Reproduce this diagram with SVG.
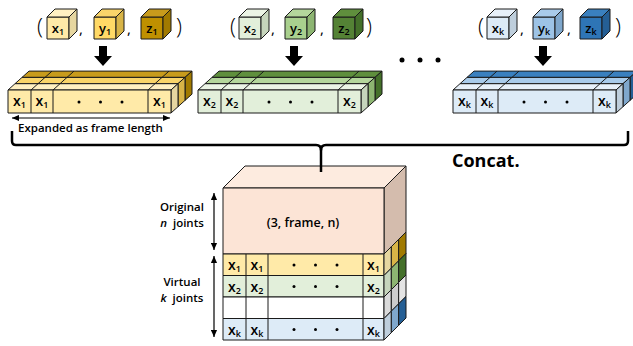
<svg xmlns="http://www.w3.org/2000/svg" width="633" height="346" viewBox="0 0 633 346">
<defs>
<style>
.o{stroke:#1a1a1a;stroke-width:1;stroke-linejoin:round}
.ln{stroke:#1a1a1a;stroke-width:1;fill:none}
.t{font-family:"Open Sans","Noto Sans","DejaVu Sans",sans-serif;fill:#000}
.c{font-size:14px;font-weight:600;text-anchor:middle}
.cs{font-size:13px;font-weight:600;text-anchor:middle}
.s{font-size:9px}
.p{font-size:22px;font-weight:300}
.cm{font-size:15px;font-weight:400}
.lb{font-size:11.5px;font-weight:600;text-anchor:middle}
.dot{fill:#000}
.yxf{fill:#FFEAA8}.yxt{fill:#FFF0C2}.yxs{fill:#E6D6A0}
.yyf{fill:#FFD966}.yyt{fill:#F9D46A}.yys{fill:#D8B447}
.yzf{fill:#BF9000}.yzt{fill:#C89B1C}.yzs{fill:#A17A00}
.gxf{fill:#E2EFDA}.gxt{fill:#EBF4E5}.gxs{fill:#C6D5BC}
.gyf{fill:#A9D08E}.gyt{fill:#B4D69C}.gys{fill:#8DB572}
.gzf{fill:#548235}.gzt{fill:#5F8F3D}.gzs{fill:#44702A}
.bxf{fill:#DDEBF7}.bxt{fill:#E7F0F9}.bxs{fill:#BECEDC}
.byf{fill:#9DC3E6}.byt{fill:#A9CBEA}.bys{fill:#7FA7CC}
.bzf{fill:#2E75B6}.bzt{fill:#3A80BF}.bzs{fill:#255F95}
.wf{fill:#FFFFFF}.w0{fill:#DADADA}.w1{fill:#CCCCCC}.w2{fill:#E4E4E4}
.pf{fill:#FCE4D6}.pt{fill:#FDEBDF}.ps{fill:#D4BCAD}
.blk{fill:#000}
</style>
<marker id="ah" viewBox="0 0 8 8" refX="8" refY="4" markerWidth="7" markerHeight="7" markerUnits="userSpaceOnUse" orient="auto-start-reverse"><path d="M0,0.5 L8,4 L0,7.5 z" fill="#000"/></marker>
</defs>

<!-- ===== yellow group ===== -->
<g id="tuple-1">
<text class="t p" x="37" y="34">(</text>
<g id="cube-x1">
<rect class="o yxf" x="47" y="17" width="22" height="22"/>
<path class="o yxt" d="M47,17 L69,17 L77,9 L55,9 Z"/>
<path class="o yxs" d="M69,17 L77,9 L77,31 L69,39 Z"/>
<text class="t cs" x="58" y="33">x<tspan class="s" dy="2">1</tspan></text>
</g>
<text class="t cm" x="79" y="34">,</text>
<g id="cube-y1">
<rect class="o yyf" x="94" y="17" width="22" height="22"/>
<path class="o yyt" d="M94,17 L116,17 L124,9 L102,9 Z"/>
<path class="o yys" d="M116,17 L124,9 L124,31 L116,39 Z"/>
<text class="t cs" x="105" y="33">y<tspan class="s" dy="2">1</tspan></text>
</g>
<text class="t cm" x="127" y="34">,</text>
<g id="cube-z1">
<rect class="o yzf" x="141" y="17" width="22" height="22"/>
<path class="o yzt" d="M141,17 L163,17 L171,9 L149,9 Z"/>
<path class="o yzs" d="M163,17 L171,9 L171,31 L163,39 Z"/>
<text class="t cs" x="152" y="33">z<tspan class="s" dy="2">1</tspan></text>
</g>
<text class="t p" x="176" y="34">)</text>
</g>

<g id="bar-1">
<path class="o yzt" d="M29,71.1 L192,71.1 L185,77.4 L22,77.4 Z"/>
<path class="o yzs" d="M185,77.4 L192,71.1 L192,94.1 L185,100.4 Z"/>
<path class="o yyt" d="M22,77.4 L185,77.4 L178,83.7 L15,83.7 Z"/>
<path class="o yys" d="M178,83.7 L185,77.4 L185,100.4 L178,106.7 Z"/>
<path class="o yxt" d="M15,83.7 L178,83.7 L171,90 L8,90 Z"/>
<path class="o yxs" d="M171,90 L178,83.7 L178,106.7 L171,113 Z"/>
<rect class="o yxf" x="8" y="90" width="163" height="23"/>
<path class="ln" d="M31,90 V113 M53,90 V113 M148,90 V113 M31,90 L52,71.1 M53,90 L74,71.1 M148,90 L169,71.1"/>
<text class="t c" x="19.5" y="106">x<tspan class="s" dy="2">1</tspan></text>
<text class="t c" x="42" y="106">x<tspan class="s" dy="2">1</tspan></text>
<text class="t c" x="159.5" y="106">x<tspan class="s" dy="2">1</tspan></text>
<circle class="dot" cx="79" cy="102" r="1.5"/><circle class="dot" cx="100.5" cy="102" r="1.5"/><circle class="dot" cx="122" cy="102" r="1.5"/>
</g>

<!-- ===== green group ===== -->
<g id="tuple-2">
<text class="t p" x="230" y="34">(</text>
<g id="cube-x2">
<rect class="o gxf" x="239" y="17" width="22" height="22"/>
<path class="o gxt" d="M239,17 L261,17 L269,9 L247,9 Z"/>
<path class="o gxs" d="M261,17 L269,9 L269,31 L261,39 Z"/>
<text class="t cs" x="250" y="33">x<tspan class="s" dy="2">2</tspan></text>
</g>
<text class="t cm" x="271" y="34">,</text>
<g id="cube-y2">
<rect class="o gyf" x="285" y="17" width="22" height="22"/>
<path class="o gyt" d="M285,17 L307,17 L315,9 L293,9 Z"/>
<path class="o gys" d="M307,17 L315,9 L315,31 L307,39 Z"/>
<text class="t cs" x="296" y="33">y<tspan class="s" dy="2">2</tspan></text>
</g>
<text class="t cm" x="320" y="34">,</text>
<g id="cube-z2">
<rect class="o gzf" x="333" y="17" width="22" height="22"/>
<path class="o gzt" d="M333,17 L355,17 L363,9 L341,9 Z"/>
<path class="o gzs" d="M355,17 L363,9 L363,31 L355,39 Z"/>
<text class="t cs" x="344" y="33">z<tspan class="s" dy="2">2</tspan></text>
</g>
<text class="t p" x="366" y="34">)</text>
</g>

<g id="bar-2" transform="translate(190,0)">
<path class="o gzt" d="M29,71.1 L192,71.1 L185,77.4 L22,77.4 Z"/>
<path class="o gzs" d="M185,77.4 L192,71.1 L192,94.1 L185,100.4 Z"/>
<path class="o gyt" d="M22,77.4 L185,77.4 L178,83.7 L15,83.7 Z"/>
<path class="o gys" d="M178,83.7 L185,77.4 L185,100.4 L178,106.7 Z"/>
<path class="o gxt" d="M15,83.7 L178,83.7 L171,90 L8,90 Z"/>
<path class="o gxs" d="M171,90 L178,83.7 L178,106.7 L171,113 Z"/>
<rect class="o gxf" x="8" y="90" width="163" height="23"/>
<path class="ln" d="M31,90 V113 M53,90 V113 M148,90 V113 M31,90 L52,71.1 M53,90 L74,71.1 M148,90 L169,71.1"/>
<text class="t c" x="19.5" y="106">x<tspan class="s" dy="2">2</tspan></text>
<text class="t c" x="42" y="106">x<tspan class="s" dy="2">2</tspan></text>
<text class="t c" x="159.5" y="106">x<tspan class="s" dy="2">2</tspan></text>
<circle class="dot" cx="79" cy="102" r="1.5"/><circle class="dot" cx="100.5" cy="102" r="1.5"/><circle class="dot" cx="122" cy="102" r="1.5"/>
</g>

<!-- ellipsis between groups -->
<g id="ellipsis">
<circle class="dot" cx="402" cy="60" r="2.5"/><circle class="dot" cx="420" cy="60" r="2.5"/><circle class="dot" cx="438" cy="60" r="2.5"/>
</g>

<!-- ===== blue group ===== -->
<g id="tuple-k">
<text class="t p" x="478" y="34">(</text>
<g id="cube-xk">
<rect class="o bxf" x="487" y="17" width="22" height="22"/>
<path class="o bxt" d="M487,17 L509,17 L517,9 L495,9 Z"/>
<path class="o bxs" d="M509,17 L517,9 L517,31 L509,39 Z"/>
<text class="t cs" x="498" y="33">x<tspan class="s" dy="2">k</tspan></text>
</g>
<text class="t cm" x="520" y="34">,</text>
<g id="cube-yk">
<rect class="o byf" x="533" y="17" width="22" height="22"/>
<path class="o byt" d="M533,17 L555,17 L563,9 L541,9 Z"/>
<path class="o bys" d="M555,17 L563,9 L563,31 L555,39 Z"/>
<text class="t cs" x="544" y="33">y<tspan class="s" dy="2">k</tspan></text>
</g>
<text class="t cm" x="567" y="34">,</text>
<g id="cube-zk">
<rect class="o bzf" x="580" y="17" width="22" height="22"/>
<path class="o bzt" d="M580,17 L602,17 L610,9 L588,9 Z"/>
<path class="o bzs" d="M602,17 L610,9 L610,31 L602,39 Z"/>
<text class="t cs" x="591" y="33">z<tspan class="s" dy="2">k</tspan></text>
</g>
<text class="t p" x="615" y="34">)</text>
</g>

<g id="bar-k" transform="translate(445,0)">
<path class="o bzt" d="M29,71.1 L192,71.1 L185,77.4 L22,77.4 Z"/>
<path class="o bzs" d="M185,77.4 L192,71.1 L192,94.1 L185,100.4 Z"/>
<path class="o byt" d="M22,77.4 L185,77.4 L178,83.7 L15,83.7 Z"/>
<path class="o bys" d="M178,83.7 L185,77.4 L185,100.4 L178,106.7 Z"/>
<path class="o bxt" d="M15,83.7 L178,83.7 L171,90 L8,90 Z"/>
<path class="o bxs" d="M171,90 L178,83.7 L178,106.7 L171,113 Z"/>
<rect class="o bxf" x="8" y="90" width="163" height="23"/>
<path class="ln" d="M31,90 V113 M53,90 V113 M148,90 V113 M31,90 L52,71.1 M53,90 L74,71.1 M148,90 L169,71.1"/>
<text class="t c" x="19.5" y="106">x<tspan class="s" dy="2">k</tspan></text>
<text class="t c" x="42" y="106">x<tspan class="s" dy="2">k</tspan></text>
<text class="t c" x="159.5" y="106">x<tspan class="s" dy="2">k</tspan></text>
<circle class="dot" cx="79" cy="102" r="1.5"/><circle class="dot" cx="100.5" cy="102" r="1.5"/><circle class="dot" cx="122" cy="102" r="1.5"/>
</g>

<!-- ===== expanded label ===== -->
<g id="expanded-label">
<line x1="12" y1="118" x2="170" y2="118" stroke="#000" stroke-width="1.2" marker-start="url(#ah)" marker-end="url(#ah)"/>
<text class="t" x="18" y="132" font-size="11.5" font-weight="600">Expanded as frame length</text>
</g>

<!-- ===== big cube ===== -->
<g id="concat-cube">
<path class="o pt" d="M223,188 L384,188 L406,166 L245,166 Z"/>
<path class="o ps" d="M384,188 L406,166 L406,232 L384,254 Z"/>
<rect class="o pf" x="223" y="188" width="161" height="66"/>
<text class="t" x="303" y="227" font-size="12.5" font-weight="600" text-anchor="middle">(3, frame, n)</text>
<rect class="o yxf" x="223" y="254" width="161" height="21.5"/>
<rect class="o gxf" x="223" y="275.5" width="161" height="21.5"/>
<rect class="o wf" x="223" y="297" width="161" height="21.5"/>
<rect class="o bxf" x="223" y="318.5" width="161" height="21.5"/>
<path class="ln" d="M246,254 V340 M268,254 V340 M363,254 V340"/>
<path class="o yxs" d="M384,254 L391.33,246.67 L391.33,268.17 L384,275.5 Z"/>
<path class="o yys" d="M391.33,246.67 L398.67,239.33 L398.67,260.83 L391.33,268.17 Z"/>
<path class="o yzs" d="M398.67,239.33 L406,232 L406,253.5 L398.67,260.83 Z"/>
<path class="o gxs" d="M384,275.5 L391.33,268.17 L391.33,289.67 L384,297 Z"/>
<path class="o gys" d="M391.33,268.17 L398.67,260.83 L398.67,282.33 L391.33,289.67 Z"/>
<path class="o gzs" d="M398.67,260.83 L406,253.5 L406,275 L398.67,282.33 Z"/>
<path class="o w0" d="M384,297 L391.33,289.67 L391.33,311.17 L384,318.5 Z"/>
<path class="o w1" d="M391.33,289.67 L398.67,282.33 L398.67,303.83 L391.33,311.17 Z"/>
<path class="o w2" d="M398.67,282.33 L406,275 L406,296.5 L398.67,303.83 Z"/>
<path class="o bxs" d="M384,318.5 L391.33,311.17 L391.33,332.67 L384,340 Z"/>
<path class="o bys" d="M391.33,311.17 L398.67,303.83 L398.67,325.33 L391.33,332.67 Z"/>
<path class="o bzs" d="M398.67,303.83 L406,296.5 L406,318 L398.67,325.33 Z"/>
<text class="t c" x="234.5" y="270">x<tspan class="s" dy="2">1</tspan></text>
<text class="t c" x="257" y="270">x<tspan class="s" dy="2">1</tspan></text>
<text class="t c" x="373.5" y="270">x<tspan class="s" dy="2">1</tspan></text>
<circle class="dot" cx="294" cy="265" r="1.5"/><circle class="dot" cx="315.5" cy="265" r="1.5"/><circle class="dot" cx="337" cy="265" r="1.5"/>
<text class="t c" x="234.5" y="291.5">x<tspan class="s" dy="2">2</tspan></text>
<text class="t c" x="257" y="291.5">x<tspan class="s" dy="2">2</tspan></text>
<text class="t c" x="373.5" y="291.5">x<tspan class="s" dy="2">2</tspan></text>
<circle class="dot" cx="294" cy="286.5" r="1.5"/><circle class="dot" cx="315.5" cy="286.5" r="1.5"/><circle class="dot" cx="337" cy="286.5" r="1.5"/>
<text class="t c" x="234.5" y="334.5">x<tspan class="s" dy="2">k</tspan></text>
<text class="t c" x="257" y="334.5">x<tspan class="s" dy="2">k</tspan></text>
<text class="t c" x="373.5" y="334.5">x<tspan class="s" dy="2">k</tspan></text>
<circle class="dot" cx="294" cy="329.5" r="1.5"/><circle class="dot" cx="315.5" cy="329.5" r="1.5"/><circle class="dot" cx="337" cy="329.5" r="1.5"/>
</g>

<!-- ===== side labels ===== -->
<g id="label-original">
<text class="t lb" x="182" y="210.5">Original</text>
<text class="t lb" x="182" y="227"><tspan font-style="italic">n</tspan><tspan dx="3"> joints</tspan></text>
<line x1="214" y1="193" x2="214" y2="250" stroke="#000" stroke-width="1.2" marker-start="url(#ah)" marker-end="url(#ah)"/>
</g>
<g id="label-virtual">
<text class="t lb" x="182" y="285.5">Virtual</text>
<text class="t lb" x="182" y="302"><tspan font-style="italic">k</tspan><tspan dx="3"> joints</tspan></text>
<line x1="214" y1="256" x2="214" y2="337" stroke="#000" stroke-width="1.2" marker-start="url(#ah)" marker-end="url(#ah)"/>
</g>

<text id="concat-label" class="t" x="452" y="167" font-size="18" font-weight="700">Concat.</text>

<!-- ===== connectors ===== -->
<g id="connectors">
<path class="blk" d="M99,46 H107 V56 H112 L103,66 L94,56 H99 Z"/>
<path class="blk" d="M290,46 H298 V56 H303 L294,66 L285,56 H290 Z"/>
<path class="blk" d="M539,46 H547 V56 H552 L543,66 L534,56 H539 Z"/>
<path d="M12,131 L12,141 Q12,145 16,145 L316,145 Q321,145 321,150 Q321,145 326,145 L624,145 Q628,145 628,141 L628,131" fill="none" stroke="#000" stroke-width="2.5" stroke-linejoin="round"/>
<line x1="321" y1="147" x2="321" y2="172" stroke="#000" stroke-width="2.5"/>
</g>
</svg>
